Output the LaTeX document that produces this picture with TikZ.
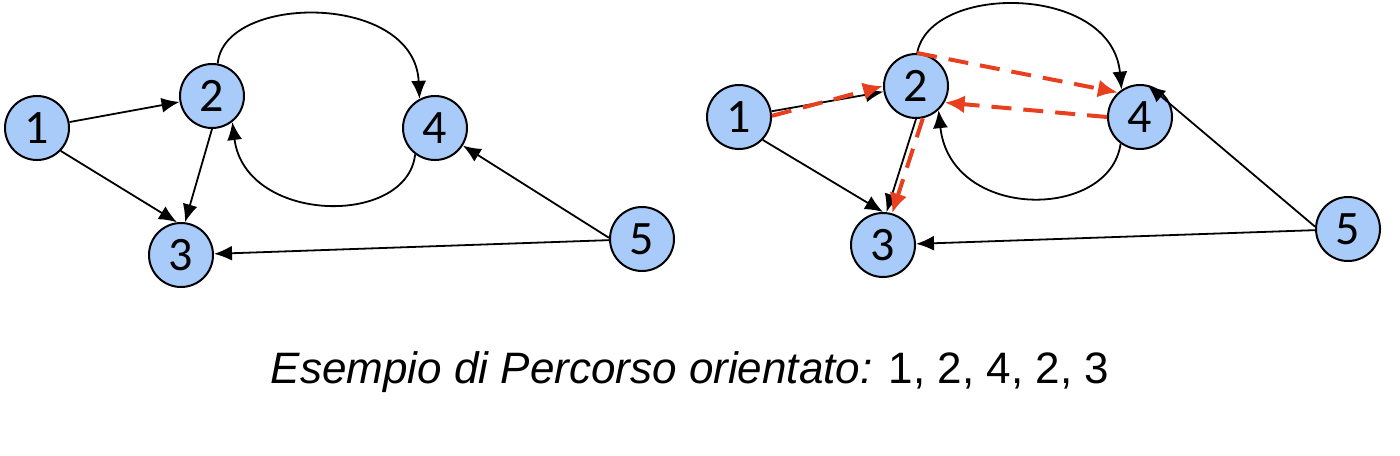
\documentclass[tikz,border=0pt]{standalone}
\usepackage{fontspec}
\setmainfont{Liberation Sans}
\newfontfamily\numfont{Carlito}
\usetikzlibrary{arrows.meta}

\definecolor{nodeblue}{RGB}{168,203,250}
\definecolor{pathred}{RGB}{232,64,30}

\tikzset{
  vert/.style={circle,draw,line width=1pt,fill=nodeblue,minimum size=32pt,inner sep=0pt,
    font=\numfont\fontsize{24}{24}\selectfont},
  arc/.style={-{Latex[length=9pt,width=7.5pt]},line width=0.9pt},
  walk/.style={-{Latex[length=10pt,width=9pt]},pathred,line width=2pt,dash pattern=on 10pt off 6pt},
}

\begin{document}
\begin{tikzpicture}[x=0.5pt,y=-0.5pt]
\useasboundingbox (0,0) rectangle (1400,455);

% left graph
\node[vert] (l1) at (37,128) {1};
\node[vert] (l2) at (212,96) {2};
\node[vert] (l3) at (181,255) {3};
\node[vert] (l4) at (435,128) {4};
\node[vert] (l5) at (642,239) {5};

\draw[arc] (l1) -- (l2);
\draw[arc] (l1.-44) -- (l3.97);
\draw[arc] (l2.south) -- (l3.83);
\draw[arc] (l5.178) -- (l4);
\draw[arc] (l5) -- (l3);
\draw[arc] (l2.80) .. controls +(6,-70) and +(-5,-107) .. (l4.118);
\draw[arc] (l4.233) .. controls +(-8,73) and +(13,102) .. (l2.-52);

% right graph, with the walk 1,2,4,2,3
\node[vert] (r1) at (739,117) {1};
\node[vert] (r2) at (916,86) {2};
\node[vert] (r3) at (883,245) {3};
\node[vert] (r4) at (1140,117) {4};
\node[vert] (r5) at (1348,229) {5};

\draw[arc] (r1) -- (r2);
\draw[arc] (r1.-44) -- (r3.north);
\draw[arc] (r2.south) -- (r3.84);
\draw[arc] (r5.176) -- (r4.77);
\draw[arc] (r5.182) -- (r3);
\draw[arc] (r2.88) .. controls +(13,-70) and +(-10,-106) .. (r4.124);
\draw[arc] (r4.234) .. controls +(-11,77) and +(12,111) .. (r2.-47);

\draw[walk] (r1.2) -- (r2.west);
\draw[walk] (r2.88) -- (r4.132);
\draw[walk] (r4.west) -- (r2.-30);
\draw[walk] (r2.-78) -- (r3.74);

\node[anchor=base,font=\fontsize{22}{22}\selectfont] (caption) at (690,383)
  {\textit{Esempio di Percorso orientato:} 1, 2, 4, 2, 3};
\end{tikzpicture}
\end{document}
